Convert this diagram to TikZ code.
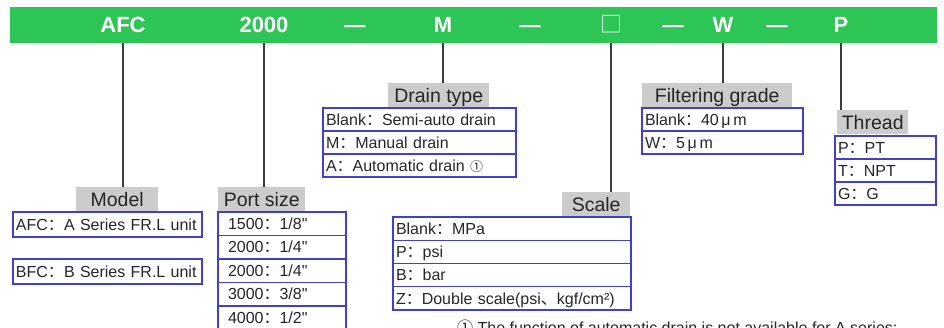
\documentclass[tikz,border=0pt]{standalone}
\usepackage{fontspec}
\setmainfont{Liberation Sans}
\newfontfamily\cjk{Noto Sans CJK SC}
\usetikzlibrary{positioning}

\definecolor{verde}{RGB}{45,198,86}
\definecolor{cinza}{RGB}{204,204,204}
\definecolor{azul}{RGB}{64,64,204}
\definecolor{traco}{RGB}{60,60,60}
\newcommand{\dpts}{{\cjk ：}}

\tikzset{
	codigo/.style={text=white, inner sep=0pt, text height=15.6pt, text depth=0pt,
		font=\fontsize{22}{24}\selectfont\bfseries},
	rotulo/.style={fill=cinza, anchor=north west, inner sep=0pt, minimum height=24pt,
		text height=14pt, text depth=0pt, text=black!85, font=\fontsize{19.5}{21}\selectfont},
	linha/.style={draw=azul, line width=1.2pt, anchor=north west, outer sep=0pt,
		inner xsep=3pt, inner ysep=0pt, minimum height=23pt, text width=#1, align=left,
		text height=11.5pt, text depth=0pt, text=black!85, font=\fontsize{16}{18}\selectfont},
	conector/.style={draw=traco, line width=1.4pt}
}

\begin{document}
\begin{tikzpicture}[x=1pt, y=-1pt]
		\useasboundingbox (0,0) rectangle (944,328);

		% Barra do código
		\node[fill=verde, anchor=north west, inner sep=0pt, minimum width=927pt, minimum height=36pt] (barra) at (10,7) {};
		\node[codigo] (afc) at (123,25)  {AFC};
		\node[codigo] (num) at (264,25)  {2000};
		\node[codigo] (t1)  at (355,25)  {—};
		\node[codigo] (m)   at (443,25)  {M};
		\node[codigo] (t2)  at (530,25)  {—};
		\node[codigo] (q)   at (611,25)  {\cjk\mdseries □};
		\node[codigo] (t3)  at (673,25)  {—};
		\node[codigo] (w)   at (723,25)  {W};
		\node[codigo] (t4)  at (777,25)  {—};
		\node[codigo] (p)   at (841,25)  {P};

		% Rótulos
		\node[rotulo, minimum width=82pt]  (modelo)  at (76,187)  {Model};
		\node[rotulo, minimum width=87pt]  (porta)   at (218,187) {Port size};
		\node[rotulo, minimum width=101pt] (dreno)   at (388,83)  {Drain type};
		\node[rotulo, minimum width=150pt] (filtro)  at (642,83)  {Filtering grade};
		\node[rotulo, minimum width=71pt]  (rosca)   at (837,110) {Thread};
		\node[rotulo, minimum width=68pt]  (escala)  at (562,192) {Scale};

		% Model
		\node[linha=183pt, minimum height=25pt] (ma) at (13,212) {AFC\dpts A Series FR.L unit};
		\node[linha=183pt, minimum height=25pt] (mb) at (13,259) {BFC\dpts B Series FR.L unit};

		% Port size
		\node[linha=108pt, inner xsep=10pt, minimum height=23.5pt] (pa) at (218,212) {1500\dpts 1/8\textquotedbl};
		\node[linha=108pt, inner xsep=10pt, minimum height=23.5pt, below=0pt of pa] (pb) {2000\dpts 1/4\textquotedbl};
		\node[linha=108pt, inner xsep=10pt, minimum height=23.5pt, below=0pt of pb] (pc) {2000\dpts 1/4\textquotedbl};
		\node[linha=108pt, inner xsep=10pt, minimum height=23.5pt, below=0pt of pc] (pd) {3000\dpts 3/8\textquotedbl};
		\node[linha=108pt, inner xsep=10pt, minimum height=23.5pt, below=0pt of pd] (pe) {4000\dpts 1/2\textquotedbl};

		% Drain type
		\node[linha=187pt] (da) at (323,108) {Blank\dpts Semi-auto drain};
		\node[linha=187pt, below=0pt of da] (db) {M\dpts Manual drain};
		\node[linha=187pt, below=0pt of db] (dc) {A\dpts Automatic drain {\cjk\fontsize{13}{13}\selectfont ①}};

		% Filtering grade
		\node[linha=155pt] (fa) at (642,108) {Blank\dpts 40\,μ\,m};
		\node[linha=155pt, below=0pt of fa] (fb) {W\dpts 5\,μ\,m};

		% Thread
		\node[linha=95pt] (ra) at (835,136) {P\dpts PT};
		\node[linha=95pt, below=0pt of ra] (rb) {T\dpts NPT};
		\node[linha=95pt, below=0pt of rb] (rc) {G\dpts G};

		% Scale
		\node[linha=232pt, minimum height=23.25pt] (ea) at (393,217) {Blank\dpts MPa};
		\node[linha=232pt, minimum height=23.25pt, below=0pt of ea] (eb) {P\dpts psi};
		\node[linha=232pt, minimum height=23.25pt, below=0pt of eb] (ec) {B\dpts bar};
		\node[linha=232pt, minimum height=23.25pt, below=0pt of ec] (ed) {Z\dpts Double scale(psi{\cjk 、}kgf/cm²)};

		% Nota (cortada na margem de baixo)
		\node[anchor=base west, inner sep=0pt, text=black!85, font=\fontsize{16}{18}\selectfont] (nota) at (457,334)
			{{\cjk ①} The function of automatic drain is not available for A series;};

		% Ligações
		\draw[conector] (afc |- barra.south) -- (afc |- modelo.north);
		\draw[conector] (num |- barra.south) -- (num |- porta.north);
		\draw[conector] (m |- barra.south)   -- (m |- dreno.north);
		\draw[conector] (q |- barra.south)   -- (q |- escala.north);
		\draw[conector] (w |- barra.south)   -- (w |- filtro.north);
		\draw[conector] (p |- barra.south)   -- (p |- rosca.north);
	\end{tikzpicture}
\end{document}
